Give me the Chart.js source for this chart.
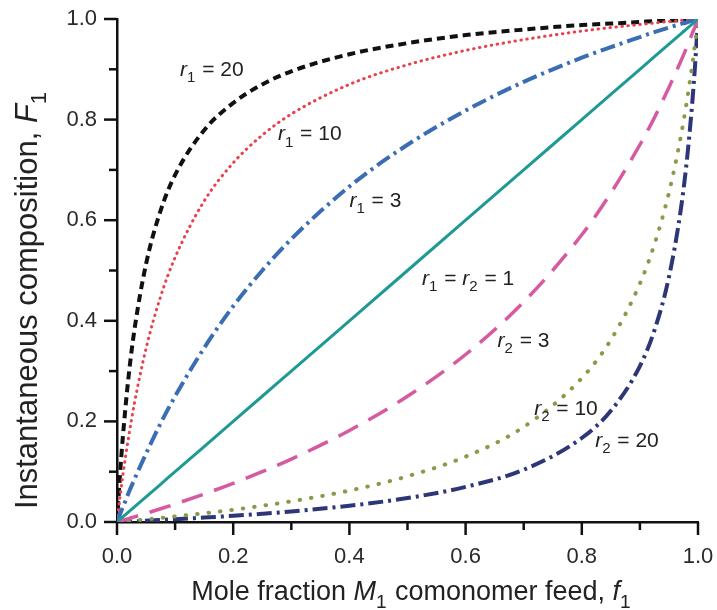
<!DOCTYPE html>
<html>
<head>
<meta charset="utf-8">
<script src="https://cdn.jsdelivr.net/npm/chart.js@4.4.1/dist/chart.umd.min.js"></script>
<style>
  html, body { margin: 0; padding: 0; background: #fff; }
</style>
</head>
<body>
<canvas id="chart" width="717" height="610"></canvas>
<script>
// mole fraction of M1 in the feed (f1)
const feed = [0, 0.005, 0.01, 0.02, 0.03, 0.05, 0.075, 0.1, 0.15, 0.2, 0.25, 0.3, 0.4,
  0.5, 0.6, 0.7, 0.8, 0.85, 0.9, 0.925, 0.95, 0.97, 0.98, 0.99, 0.995, 1];

// instantaneous copolymer composition F1
const r1is20 = [0, 0.091, 0.168, 0.29, 0.382, 0.513, 0.619, 0.69, 0.779, 0.833, 0.87, 0.896, 0.93,
  0.952, 0.968, 0.979, 0.988, 0.991, 0.994, 0.996, 0.997, 0.998, 0.999, 0.9995, 0.9997, 1];
const r1is10 = [0, 0.048, 0.092, 0.169, 0.236, 0.345, 0.448, 0.526, 0.638, 0.714, 0.769, 0.811, 0.87,
  0.909, 0.9375, 0.959, 0.976, 0.983, 0.989, 0.992, 0.995, 0.997, 0.998, 0.999, 0.9995, 1];
const r1is3 = [0, 0.015, 0.029, 0.058, 0.085, 0.136, 0.196, 0.25, 0.346, 0.429, 0.5, 0.5625, 0.667,
  0.75, 0.818, 0.875, 0.923, 0.944, 0.964, 0.974, 0.983, 0.99, 0.993, 0.997, 0.998, 1];
const r1r2is1 = [0, 0.005, 0.01, 0.02, 0.03, 0.05, 0.075, 0.1, 0.15, 0.2, 0.25, 0.3, 0.4,
  0.5, 0.6, 0.7, 0.8, 0.85, 0.9, 0.925, 0.95, 0.97, 0.98, 0.99, 0.995, 1];
const r2is3 = [0, 0.0017, 0.0034, 0.0068, 0.0102, 0.0172, 0.0263, 0.0357, 0.0556, 0.0769, 0.1, 0.125, 0.182,
  0.25, 0.333, 0.4375, 0.571, 0.654, 0.75, 0.804, 0.864, 0.915, 0.942, 0.971, 0.985, 1];
const r2is10 = [0, 0.0005, 0.001, 0.002, 0.0031, 0.0052, 0.008, 0.011, 0.0173, 0.0244, 0.0323, 0.0411, 0.0625,
  0.0909, 0.13, 0.189, 0.286, 0.362, 0.474, 0.552, 0.655, 0.764, 0.831, 0.908, 0.952, 1];
const r2is20 = [0, 0.0003, 0.0005, 0.001, 0.0015, 0.0026, 0.004, 0.0055, 0.0088, 0.0123, 0.0164, 0.021, 0.0323,
  0.0476, 0.0698, 0.104, 0.167, 0.221, 0.31, 0.381, 0.487, 0.618, 0.71, 0.832, 0.909, 1];

const axisTicks = [0, 0.1, 0.2, 0.3, 0.4, 0.5, 0.6, 0.7, 0.8, 0.9, 1.0];

// curve labels: anchor = [f1, F1] of the text start / baseline
const curveLabels = [
  { at: [0.1085, 0.887], parts: [["r", "i"], ["1", "s"], [" = 20", ""]] },
  { at: [0.277, 0.759], parts: [["r", "i"], ["1", "s"], [" = 10", ""]] },
  { at: [0.400, 0.626], parts: [["r", "i"], ["1", "s"], [" = 3", ""]] },
  { at: [0.525, 0.471], parts: [["r", "i"], ["1", "s"], [" = ", ""], ["r", "i"], ["2", "s"], [" = 1", ""]] },
  { at: [0.655, 0.348], parts: [["r", "i"], ["2", "s"], [" = 3", ""]] },
  { at: [0.718, 0.213], parts: [["r", "i"], ["2", "s"], [" = 10", ""]] },
  { at: [0.823, 0.149], parts: [["r", "i"], ["2", "s"], [" = 20", ""]] },
];

const FONT = '"Liberation Sans", Arial, Helvetica, sans-serif';

const pairUp = (ys) => feed.map((x, i) => ({ x: x, y: ys[i] }));

const drawRich = function (ctx, parts, x, y, size, align) {
  const fontFor = (p) =>
    (p[1] === "i" ? "italic " : "") + (p[1] === "s" ? Math.round(size * 0.7) : size) + "px " + FONT;
  let total = 0;
  parts.forEach((p) => {
    ctx.font = fontFor(p);
    total += ctx.measureText(p[0]).width + (p[1] === "s" ? 1 : 0);
  });
  let cx = align === "center" ? x - total / 2 : x;
  parts.forEach((p) => {
    ctx.font = fontFor(p);
    ctx.fillText(p[0], cx, p[1] === "s" ? y + size * 0.3 : y);
    cx += ctx.measureText(p[0]).width + (p[1] === "s" ? 1 : 0);
  });
};

const decorPlugin = {
  id: "decor",
  afterDraw(chart) {
    const { ctx, chartArea, scales } = chart;
    ctx.save();
    ctx.strokeStyle = "#111";
    ctx.lineWidth = 2.5;
    ctx.lineCap = "butt";
    axisTicks.forEach((v, i) => {
      const len = i % 2 === 0 ? 13 : 8;
      const px = scales.x.getPixelForValue(v);
      ctx.beginPath();
      ctx.moveTo(px, chartArea.bottom);
      ctx.lineTo(px, chartArea.bottom + len);
      ctx.stroke();
      const py = scales.y.getPixelForValue(v);
      ctx.beginPath();
      ctx.moveTo(chartArea.left, py);
      ctx.lineTo(chartArea.left - len, py);
      ctx.stroke();
    });

    ctx.fillStyle = "#222";
    ctx.textBaseline = "alphabetic";
    curveLabels.forEach((lab) => {
      drawRich(ctx, lab.parts, scales.x.getPixelForValue(lab.at[0]),
        scales.y.getPixelForValue(lab.at[1]), 21, "left");
    });

    // axis titles
    drawRich(ctx, [["Mole fraction ", ""], ["M", "i"], ["1", "s"], [" comonomer feed, ", ""], ["f", "i"], ["1", "s"]],
      (chartArea.left + chartArea.right) / 2 + 4, 600, 27, "center");
    ctx.translate(37, 300);
    ctx.rotate(-Math.PI / 2);
    drawRich(ctx, [["Instantaneous composition, ", ""], ["F", "i"], ["1", "s"]], 0, 0, 31, "center");
    ctx.restore();
  },
};

const curve = (label, ys, color, width, dash, cap) => ({
  label: label,
  data: pairUp(ys),
  borderColor: color,
  borderWidth: width,
  borderDash: dash,
  borderCapStyle: cap || "butt",
  pointRadius: 0,
  fill: false,
  cubicInterpolationMode: "monotone",
});

// tick label padding should not push the plot area in
const noOverflow = (s) => {
  s.paddingTop = 0;
  s.paddingBottom = 0;
  s.paddingLeft = 0;
  s.paddingRight = 0;
};

new Chart(document.getElementById("chart"), {
  type: "line",
  data: {
    datasets: [
      curve("r1 = r2 = 1", r1r2is1, "#1e9a93", 3, []),
      curve("r2 = 3", r2is3, "#d65aa0", 3.5, [22, 12]),
      curve("r2 = 10", r2is10, "#8a9a4c", 4, [0.5, 11], "round"),
      curve("r2 = 20", r2is20, "#2d3677", 4, [15, 5, 3, 5]),
      curve("r1 = 3", r1is3, "#3b6db4", 4, [15, 5, 3, 5]),
      curve("r1 = 10", r1is10, "#e8424f", 3, [0.5, 5.5], "round"),
      curve("r1 = 20", r1is20, "#111111", 4, [8, 5]),
    ],
  },
  options: {
    responsive: false,
    animation: false,
    layout: { padding: { top: 19, right: 19, left: 0, bottom: 0 } },
    plugins: { legend: { display: false }, tooltip: { enabled: false } },
    scales: {
      x: {
        type: "linear",
        min: 0,
        max: 1,
        afterFit: (s) => { s.height = 88; noOverflow(s); },
        grid: { display: false, drawTicks: false },
        border: { display: true, color: "#111", width: 2.5 },
        ticks: {
          stepSize: 0.2,
          padding: 22,
          color: "#2a2a2a",
          font: { family: FONT, size: 22 },
          callback: (v) => v.toFixed(1),
        },
      },
      y: {
        type: "linear",
        min: 0,
        max: 1,
        afterFit: (s) => { s.width = 117; noOverflow(s); },
        grid: { display: false, drawTicks: false },
        border: { display: true, color: "#111", width: 2.5 },
        ticks: {
          stepSize: 0.2,
          padding: 20,
          color: "#2a2a2a",
          font: { family: FONT, size: 22 },
          callback: (v) => v.toFixed(1),
        },
      },
    },
  },
  plugins: [decorPlugin],
});
</script>
</body>
</html>
